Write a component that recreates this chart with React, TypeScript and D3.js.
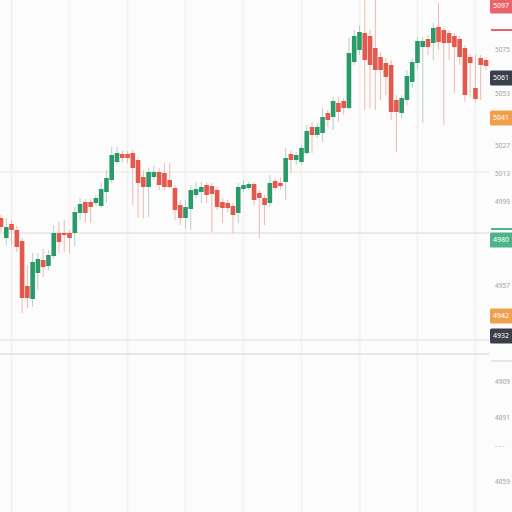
import React from "react";
import * as d3 from "d3";

// OHLC candles (price units)
const opens = [4991, 4981, 4988, 4985, 4979.5, 4957, 4950.5, 4963.5, 4970, 4967, 4972, 4983.5, 4983.5, 4983.5, 4983.5, 4993.5, 4999, 4999, 4998.5, 4997, 5004, 5010, 5019, 5023, 5023, 5023.5, 5020, 5011.5, 5006.5, 5011.5, 5014, 5013.5, 5010, 5006, 4997.5, 4991, 4995.5, 5002.5, 5004, 5007.5, 5007, 5005, 4999, 4998.5, 4997, 4993.5, 5005.5, 5006, 5008, 5003.5, 5001, 4998.5, 5009.5, 5008.5, 5009, 5023, 5020, 5019, 5023.5, 5036.5, 5032.5, 5033.5, 5043.5, 5041.5, 5048.5, 5049.5, 5046, 5069, 5075, 5083.5, 5082, 5076, 5071.5, 5068.5, 5067.5, 5050, 5043.5, 5050, 5059, 5068.5, 5076.5, 5080.5, 5078.5, 5086.5, 5085, 5083.5, 5082, 5080.5, 5076, 5071.5, 5056, 5071, 5070];
const closes = [4986.5, 4986.5, 4985, 4976.5, 4951, 4951, 4969, 4970.5, 4966.5, 4972.5, 4983.5, 4979, 4982.5, 4981, 4994, 4998, 4993.5, 4996.5, 5001, 5005.5, 5011, 5022.5, 5023.5, 5021, 5021, 5016, 5008.5, 5006.5, 5014, 5014, 5007.5, 5006.5, 5006.5, 4995, 4991, 4996.5, 5005, 5005.5, 5006.5, 5002.5, 5003, 4996.5, 4996, 4996, 4992.5, 5006.5, 5007.5, 5008, 5000, 5001, 4997.5, 5008.5, 5006, 5007, 5021, 5020, 5022.5, 5026, 5034.5, 5032.5, 5036.5, 5041.5, 5040, 5049.5, 5044, 5046, 5073.5, 5082, 5084, 5070, 5067.5, 5065, 5065, 5061.5, 5044, 5044, 5051, 5062, 5069, 5079.5, 5079.5, 5076.5, 5086, 5079, 5078.5, 5078.5, 5076.5, 5071.5, 5052.5, 5068.5, 5050.5, 5067.5, 5067];
const highs = [4992.5, 4991, 4990, 4987, 4981, 4967.5, 4973.5, 4973.5, 4975.5, 4975, 4987.5, 4989, 4990, 4985, 4996.5, 5001, 5000.5, 5000.5, 5002.5, 5008.5, 5015, 5026.5, 5026.5, 5025, 5024.5, 5025, 5021.5, 5015, 5016, 5017, 5016, 5018.5, 5018.5, 5007.5, 5000, 5000, 5007.5, 5009, 5009, 5008.5, 5008.5, 5006.5, 5001, 5000, 4998.5, 5008.5, 5010, 5009, 5009, 5005, 5002.5, 5012.5, 5011, 5011.5, 5026, 5025, 5024, 5027.5, 5037.5, 5039, 5038.5, 5046, 5045, 5051.5, 5051.5, 5051, 5081, 5085, 5087.5, 5102, 5085, 5102, 5074, 5071, 5070, 5052.5, 5052.5, 5065, 5071, 5081.5, 5081.5, 5082.5, 5088.5, 5098.5, 5086, 5085, 5083.5, 5082, 5077.5, 5073, 5072.5, 5072.5, 5071.5];
const lows = [4984, 4977.5, 4977.5, 4974, 4943.5, 4946, 4946.5, 4955, 4961.5, 4965, 4970.5, 4973.5, 4974, 4973.5, 4977, 4990, 4989, 4988.5, 4997, 4996, 4998.5, 5008.5, 5017.5, 5019, 5018.5, 4997.5, 4991, 4991, 4991.5, 5010, 5005, 5005, 5006, 4990, 4987.5, 4986, 4985, 5001, 4998.5, 4998.5, 4984, 4995, 4988.5, 4994, 4983.5, 4988.5, 5004, 5005, 4997.5, 4981, 4987.5, 4996.5, 5005, 5005, 5000, 5013.5, 5017.5, 5017.5, 5022.5, 5023.5, 5031, 5029, 5036.5, 5035, 5039, 5042.5, 5045, 5067.5, 5072.5, 5045, 5046, 5045, 5050, 5052.5, 5040, 5024, 5041, 5047.5, 5056, 5065, 5038.5, 5072.5, 5070, 5075, 5037.5, 5070, 5053.5, 5067.5, 5049, 5051.5, 5049, 5050, 5065];

// right axis tick labels
const tickValues = [5075, 5053, 5027, 5013, 4999, 4957, 4909, 4891, 4859];
const dashTick = [4877];
// highlighted price markers
const markerValues = [5097, 5061, 5041, 4980, 4942, 4932];
const markerLines = [5085, 4985.5, 4919.5];
// horizontal reference levels
const levelValues = [5014, 4983.5, 4930, 4923];

const W = 512;
const H = 512;
const GREEN = "#2b9a6b";
const RED = "#e2594d";
const markerColors = ["#e8636b", "#3b3f49", "#f0a04c", "#4db48a", "#f0a04c", "#3b3f49"];
const markerLineColors = ["#e8636b", "#4db48a", "#cfcfcf"];
const levelColors = ["#ededed", "#e4e4e4", "#e8e8e8", "#e0e0e0"];

export default function App() {
  const n = opens.length;
  const x = d3.scaleLinear().domain([0, n - 1]).range([1, 486]);
  const y = d3.scaleLinear().domain([4844, 5100]).range([H, 0]);
  const bw = 4.6;
  const gridIdx = d3.range(2, n, 11);
  const fmt = d3.format("d");
  const font = "'Noto Sans', 'DejaVu Sans', sans-serif";

  return (
    <div style={{ position: "fixed", left: 0, top: 0, width: W, height: H }}>
      <svg width={W} height={H} style={{ display: "block" }}>
        <rect x={0} y={0} width={W} height={H} fill="#fcfcfc" />
        {gridIdx.map((i) => (
          <line key={"v" + i} x1={x(i)} x2={x(i)} y1={0} y2={H} stroke="#f3f3f3" strokeWidth={2} />
        ))}
        {levelValues.map((v, i) => (
          <line key={"h" + i} x1={0} x2={489} y1={y(v)} y2={y(v)} stroke={levelColors[i]} strokeWidth={1.5} />
        ))}
        {opens.map((o, i) => {
          const c = closes[i];
          const up = c >= o;
          const cx = x(i);
          const top = y(Math.max(o, c));
          const bot = y(Math.min(o, c));
          return (
            <g key={"c" + i}>
              <line x1={cx} x2={cx} y1={y(highs[i])} y2={y(lows[i])} stroke={up ? "#b3d3c5" : "#f0b8b0"} strokeWidth={1} />
              <rect x={cx - bw / 2} y={top} width={bw} height={Math.max(1.5, bot - top)} fill={up ? GREEN : RED} />
            </g>
          );
        })}
        {markerLines.map((v, i) => (
          <line key={"ml" + i} x1={491} x2={512} y1={y(v)} y2={y(v)} stroke={markerLineColors[i]} strokeWidth={i === 2 ? 1 : 2} />
        ))}
        {tickValues.map((v, i) => (
          <text key={"t" + i} x={495} y={y(v)} dy="0.35em" fontSize={6.5} fill="#a0a0a0" fontFamily={font}>
            {fmt(v)}
          </text>
        ))}
        {dashTick.map((v, i) => (
          <text key={"d" + i} x={495} y={y(v)} dy="0.35em" fontSize={6.5} fill="#b5b5b5" fontFamily={font}>
            {"- - -"}
          </text>
        ))}
        {markerValues.map((v, i) => (
          <g key={"m" + i}>
            <rect x={490} y={y(v) - 7.5} width={24} height={15} rx={1.5} fill={markerColors[i]} />
            <text x={493} y={y(v)} dy="0.35em" fontSize={7} fill="#ffffff" fontFamily={font}>
              {fmt(v)}
            </text>
          </g>
        ))}
      </svg>
    </div>
  );
}
